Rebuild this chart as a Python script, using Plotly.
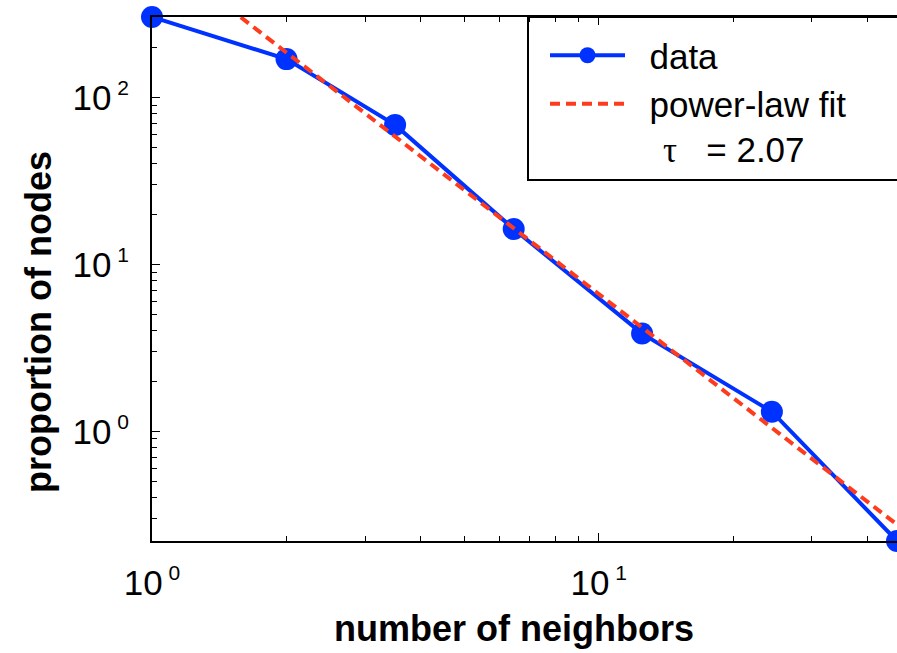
import math
import plotly.graph_objects as go

# ---- data ----
neighbors = [1, 2, 3.5, 6.45, 12.5, 24.4, 46.5]
proportion = [304, 170, 68.6, 16.3, 3.85, 1.31, 0.22]

fit_x = [1.58, 46.5]
fit_y = [303, 0.276]
tau_label = "2.07"

SUP = "<sup><span style='font-size:21px'>\u00a0{}</span></sup>"
x_tickvals = [1, 10]
x_ticktext = ["10" + SUP.format(0), "10" + SUP.format(1)]
y_tickvals = [1, 10, 100]
y_ticktext = ["10" + SUP.format(0), "10" + SUP.format(1), "10" + SUP.format(2)]

FONT = "Liberation Sans, Arial, Helvetica, sans-serif"
BLUE = "#0032ff"
RED = "#ff3b1e"

# figure geometry (px)
W, H = 897, 653
L, R, T, B = 152, 0, 17, 112
PW, PH = W - L - R, H - T - B


def px_to_paper_x(px):
    return (px - L) / PW


def px_to_paper_y(py):
    return (H - B - py) / PH


fig = go.Figure()
fig.add_trace(go.Scatter(
    x=neighbors, y=proportion, mode="lines+markers",
    name="\u00a0\u00a0data",
    line=dict(color=BLUE, width=4),
    marker=dict(color=BLUE, size=22),
    cliponaxis=False,
))
fig.add_trace(go.Scatter(
    x=fit_x, y=fit_y, mode="lines",
    name="\u00a0\u00a0power-law fit",
    line=dict(color=RED, width=4, dash="10px,6px"),
))

axis_common = dict(
    type="log", showgrid=False, zeroline=False,
    showline=True, linecolor="black", linewidth=2,
    ticks="inside", ticklen=8, tickwidth=1, tickcolor="black",
    tickfont=dict(family=FONT, size=35, color="black"),
    minor=dict(ticks="inside", ticklen=5, tickwidth=1, tickcolor="black",
               dtick="D1", showgrid=False),
    tickmode="array",
)

fig.update_xaxes(
    **axis_common,
    range=[math.log10(min(neighbors)), math.log10(max(neighbors))],
    tickvals=x_tickvals, ticktext=x_ticktext,
    mirror="ticks", ticklabelstandoff=10,
)
fig.update_yaxes(
    **axis_common,
    range=[math.log10(min(proportion)), math.log10(max(proportion))],
    tickvals=y_tickvals, ticktext=y_ticktext,
    mirror=False, ticklabelstandoff=14,
)

fig.update_layout(
    width=W, height=H,
    margin=dict(l=L, r=R, t=T, b=B, pad=0),
    paper_bgcolor="white", plot_bgcolor="white",
    font=dict(family=FONT, color="black"),
    showlegend=True,
    legend=dict(
        x=px_to_paper_x(545), y=px_to_paper_y(26),
        xanchor="left", yanchor="top",
        bgcolor="rgba(0,0,0,0)", borderwidth=0,
        font=dict(family=FONT, size=35, color="black"),
        itemwidth=75, tracegroupgap=0,
    ),
    shapes=[dict(
        type="rect", xref="paper", yref="paper",
        x0=px_to_paper_x(528), x1=px_to_paper_x(960),
        y0=px_to_paper_y(180), y1=px_to_paper_y(17),
        line=dict(color="black", width=2), fillcolor="rgba(0,0,0,0)",
    )],
    annotations=[
        dict(text="<span style='font-family:Liberation Serif, Times New Roman, serif'>τ</span>\u00a0\u00a0\u00a0=\u00a0" + tau_label,
             xref="paper", yref="paper", x=px_to_paper_x(661), y=px_to_paper_y(150),
             xanchor="left", yanchor="middle", showarrow=False,
             font=dict(family=FONT, size=35, color="black")),
        dict(text="<b>number of neighbors</b>", xref="paper", yref="paper",
             x=px_to_paper_x(514), y=px_to_paper_y(628),
             xanchor="center", yanchor="middle", showarrow=False,
             font=dict(family=FONT, size=36, color="black")),
        dict(text="<b>proportion of nodes</b>", xref="paper", yref="paper",
             x=px_to_paper_x(39), y=px_to_paper_y(322), textangle=-90,
             xanchor="center", yanchor="middle", showarrow=False,
             font=dict(family=FONT, size=36, color="black")),
    ],
)

fig.write_html(
    "out.html",
    config={"displayModeBar": False},
    post_script="document.body.style.margin='0';document.body.style.overflow='hidden';",
)
